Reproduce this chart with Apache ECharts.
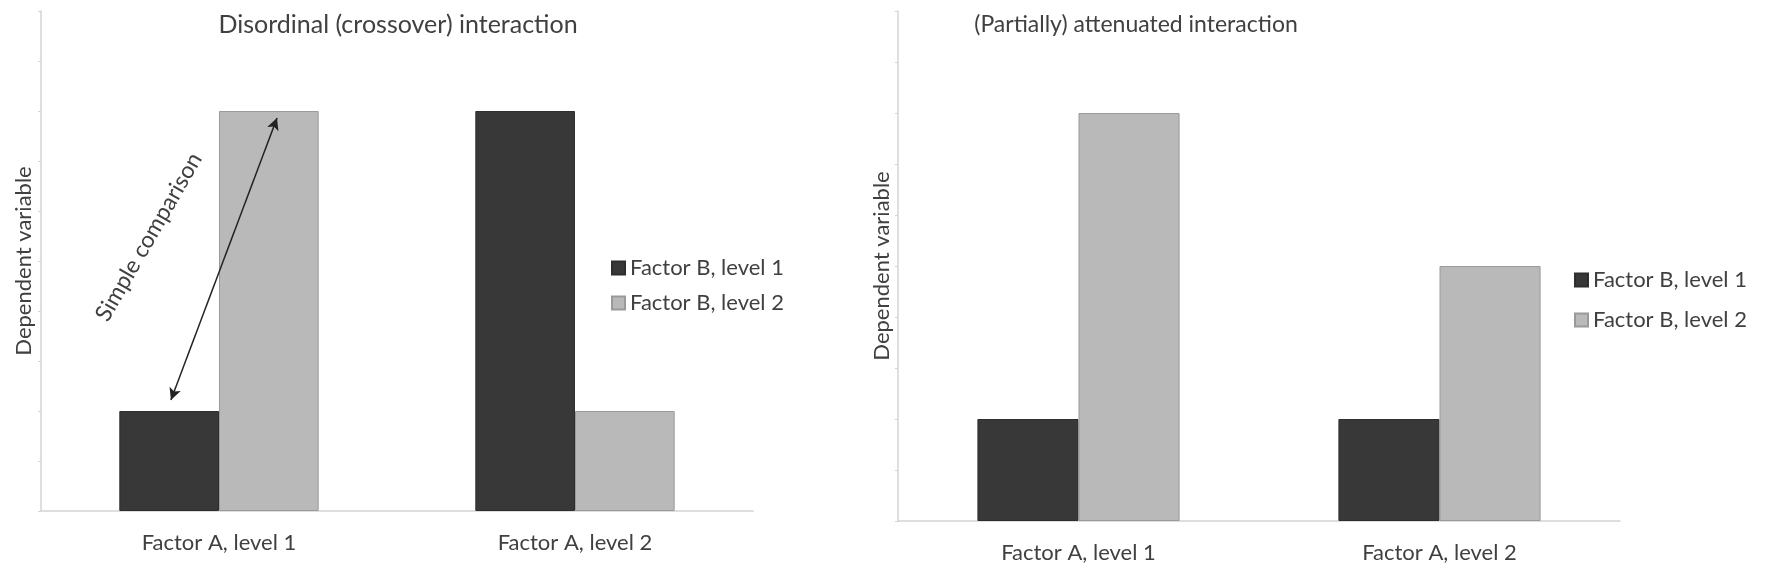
<!DOCTYPE html>
<html>
<head>
<meta charset="utf-8">
<script src="https://cdn.jsdelivr.net/npm/echarts@6/dist/echarts.min.js"></script>
<style>
html,body{margin:0;padding:0;background:#fff;}
#chart{width:1772px;height:570px;}
</style>
</head>
<body>
<div id="chart"></div>
<script>
// ---- data ----
const categories = ['Factor A, level 1', 'Factor A, level 2'];
const seriesNames = ['Factor B, level 1', 'Factor B, level 2'];
const leftTitle = 'Disordinal (crossover) interaction';
const rightTitle = '(Partially) attenuated interaction';
const yName = 'Dependent variable';
const leftB1 = [2, 8];
const leftB2 = [8, 2];
const rightB1 = [2, 2];
const rightB2 = [8, 5];
// annotation: simple-comparison arrow (x in category units 0..2, y in data units)
const arrowStart = [0.365, 2.22];
const arrowEnd = [0.663, 7.86];
const arrowLabel = 'Simple comparison';
const arrowLabelPos = [0.303, 5.48];

const FONT = 'Lato, "Open Sans", sans-serif';
const TXT = '#404040';
const DARK = '#383838';
const LIGHT = '#b9b9b9';
const AXIS = '#d4d4d4';

const chart = echarts.init(document.getElementById('chart'), null, {renderer: 'canvas'});

function yAx(grid, gap) {
  return {
    type: 'value', gridIndex: grid, min: 0, max: 10, interval: 1,
    name: yName, nameLocation: 'middle', nameGap: gap,
    nameTextStyle: {color: TXT, fontFamily: FONT, fontSize: 22},
    axisLine: {show: true, lineStyle: {color: AXIS, width: 1.5}},
    axisTick: {show: true, length: 3, lineStyle: {color: AXIS}},
    axisLabel: {show: false},
    splitLine: {show: false}
  };
}
function xAx(grid) {
  return {
    type: 'category', gridIndex: grid, data: categories,
    axisLine: {show: true, lineStyle: {color: AXIS, width: 1.5}},
    axisTick: {show: false},
    axisLabel: {color: TXT, fontFamily: FONT, fontSize: 22, margin: 21}
  };
}
function bar(name, data, grid, color, border) {
  return {
    name: name, type: 'bar', xAxisIndex: grid, yAxisIndex: grid, data: data,
    barGap: '0%', barCategoryGap: '44%',
    itemStyle: {color: color, borderColor: border, borderWidth: 1},
    emphasis: {disabled: true}, animation: false
  };
}
const legendText = {color: TXT, fontFamily: FONT, fontSize: 22, lineHeight: 24};

const option = {
  animation: false,
  backgroundColor: '#fff',
  title: [
    {text: leftTitle, left: 393, top: 7, textAlign: 'center',
     textStyle: {color: TXT, fontFamily: FONT, fontSize: 25, fontWeight: 'normal'}},
    {text: rightTitle, left: 1131, top: 8, textAlign: 'center',
     textStyle: {color: TXT, fontFamily: FONT, fontSize: 23, fontWeight: 'normal'}}
  ],
  legend: [
    {data: seriesNames, orient: 'vertical', left: 606, top: 251, itemWidth: 13, itemHeight: 13,
     itemGap: 11, icon: 'rect', textStyle: legendText},
    {data: seriesNames, orient: 'vertical', left: 1569, top: 263, itemWidth: 13, itemHeight: 13,
     itemGap: 16, icon: 'rect', textStyle: legendText}
  ],
  grid: [
    {left: 41, top: 11, width: 712, height: 500},
    {left: 898, top: 11, width: 722, height: 510}
  ],
  xAxis: [
    xAx(0), xAx(1),
    {type: 'value', gridIndex: 0, min: 0, max: 2, show: false}
  ],
  yAxis: [yAx(0, 6), yAx(1, 5)],
  series: [
    bar(seriesNames[0], leftB1, 0, DARK, '#2e2e2e'),
    bar(seriesNames[1], leftB2, 0, LIGHT, '#9a9a9a'),
    bar(seriesNames[0], rightB1, 1, DARK, '#2e2e2e'),
    bar(seriesNames[1], rightB2, 1, LIGHT, '#9a9a9a'),
    {
      type: 'line', xAxisIndex: 2, yAxisIndex: 0, data: [], silent: true,
      markLine: {
        silent: true, animation: false,
        symbol: ['arrow', 'arrow'], symbolSize: [9, 12],
        lineStyle: {color: '#222', width: 1.5, type: 'solid'},
        label: {show: false},
        data: [[{coord: arrowStart}, {coord: arrowEnd}]]
      },
      markPoint: {
        silent: true, animation: false,
        symbol: 'circle', symbolSize: 0,
        label: {show: true, formatter: arrowLabel, rotate: 60, color: TXT,
                fontFamily: FONT, fontSize: 23, position: 'inside'},
        data: [{coord: arrowLabelPos}]
      }
    }
  ]
};
chart.setOption(option);
</script>
</body>
</html>
